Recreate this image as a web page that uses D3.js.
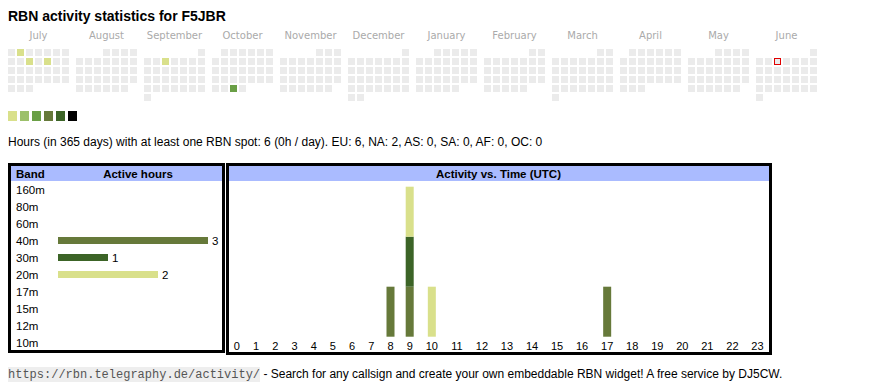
<!DOCTYPE html>
<html>
<head>
<meta charset="utf-8">
<script src="https://cdn.jsdelivr.net/npm/d3@7"></script>
<style>
  html, body { margin: 0; padding: 0; background: #fff; }
  svg { display: block; }
</style>
</head>
<body>
<svg id="chart" width="870" height="390"></svg>
<script>
// ---------- data ----------
const callsign = "F5JBR";
const months = ["July","August","September","October","November","December","January","February","March","April","May","June"];
const monthStartWeekday = [0,3,6,1,4,6,2,5,5,1,3,6];   // Monday = 0
const monthDays = [31,31,30,31,30,31,31,28,31,30,31,30];
const activeDays = [
  {month: "July", day: 2, level: 0},
  {month: "July", day: 10, level: 0},
  {month: "July", day: 12, level: 0},
  {month: "September", day: 4, level: 0},
  {month: "October", day: 30, level: 2}
];
const today = {month: "June", day: 4};
const levelColors = ["#d9e08b","#9cc06a","#6a9f46","#66793a","#3c6427","#000000"];

const bands = ["160m","80m","60m","40m","30m","20m","17m","15m","12m","10m"];
const bandHours = [0,0,0,3,1,2,0,0,0,0];
const bandColors = {"40m": "#66793a", "30m": "#3c6427", "20m": "#d9e08b"};

const hours = d3.range(24);
const activeHoursByBand = {
  "40m": [8, 9, 17],
  "30m": [9],
  "20m": [9, 10]
};
const stackOrder = ["40m","30m","20m"];

const totalHours = 6, daysSpan = 365, perDay = 0;
const continents = ["EU","NA","AS","SA","AF","OC"];
const continentHours = [6,2,0,0,0,0];

// ---------- drawing ----------
const svg = d3.select("#chart");
const SANS = '"Liberation Sans", Arial, sans-serif';

svg.append("text").attr("x", 8).attr("y", 21)
  .attr("font-family", SANS).attr("font-size", 14).attr("font-weight", "bold")
  .attr("fill", "#000").text("RBN activity statistics for " + callsign);

// calendar
const xMonth = d3.scaleBand().domain(months).range([8, 817]).paddingInner(7/68);
const xDay = d3.scaleBand().domain(d3.range(7)).range([0, 61]).paddingInner(2/9);
const yWeek = d3.scaleBand().domain(d3.range(6)).range([49, 101]).paddingInner(2/9);

svg.append("g").selectAll("text").data(months).join("text")
  .attr("x", d => xMonth(d) + xMonth.bandwidth()/2)
  .attr("y", 39)
  .attr("text-anchor", "middle")
  .attr("font-family", '"DejaVu Sans", Verdana, sans-serif')
  .attr("font-size", 10)
  .attr("fill", "#aaaaaa")
  .text(d => d);

const cells = [];
months.forEach((m, i) => {
  for (let d = 1; d <= monthDays[i]; d++) {
    const idx = d - 1 + monthStartWeekday[i];
    const act = activeDays.find(a => a.month === m && a.day === d);
    cells.push({month: m, day: d, col: idx % 7, row: Math.floor(idx / 7),
      level: act ? act.level : null,
      today: today.month === m && today.day === d});
  }
});
const cg = svg.append("g");
cg.selectAll("rect").data(cells).join("rect")
  .attr("x", d => xMonth(d.month) + xDay(d.col) + (d.today ? 0.5 : 0))
  .attr("y", d => yWeek(d.row) + (d.today ? 0.5 : 0))
  .attr("width", d => xDay.bandwidth() - (d.today ? 1 : 0))
  .attr("height", d => yWeek.bandwidth() - (d.today ? 1 : 0))
  .attr("fill", d => d.level === null ? "#ebebeb" : levelColors[d.level])
  .attr("stroke", d => d.today ? "#e00000" : "none")
  .attr("stroke-width", 1);

// legend
const xLeg = d3.scaleBand().domain(d3.range(levelColors.length)).range([8, 8 + 12*6 - 3]).paddingInner(3/12);
svg.append("g").selectAll("rect").data(levelColors).join("rect")
  .attr("x", (d, i) => xLeg(i)).attr("y", 111)
  .attr("width", xLeg.bandwidth()).attr("height", 10)
  .attr("fill", d => d);

// summary line
svg.append("text").attr("x", 8).attr("y", 146)
  .attr("font-family", SANS).attr("font-size", 12).attr("fill", "#000")
  .text(`Hours (in ${daysSpan} days) with at least one RBN spot: ${totalHours} (${perDay}h / day). ` +
        continents.map((c, i) => `${c}: ${continentHours[i]}`).join(", "));

// ---------- left table: band / active hours ----------
svg.append("rect").attr("x", 9.5).attr("y", 164.5).attr("width", 214).attr("height", 187)
  .attr("fill", "#fff").attr("stroke", "#000").attr("stroke-width", 3);
svg.append("rect").attr("x", 11).attr("y", 166).attr("width", 211).attr("height", 15).attr("fill", "#aabbff");
svg.append("text").attr("x", 16).attr("y", 177.5).attr("font-family", SANS).attr("font-size", 11.5)
  .attr("font-weight", "bold").text("Band");
svg.append("text").attr("x", 138).attr("y", 177.5).attr("text-anchor", "middle").attr("font-family", SANS)
  .attr("font-size", 11.5).attr("font-weight", "bold").text("Active hours");

const yBand = d3.scaleBand().domain(bands).range([181, 351]);
const xHours = d3.scaleLinear().domain([0, 3]).range([58, 208]);

const lt = svg.append("g");
lt.selectAll("text.band").data(bands).join("text").attr("class", "band")
  .attr("x", 16).attr("y", d => yBand(d) + yBand.bandwidth()/2 + 4)
  .attr("font-family", SANS).attr("font-size", 11.5).text(d => d);
const bandData = bands.map((b, i) => ({band: b, v: bandHours[i]})).filter(d => d.v > 0);
lt.selectAll("rect").data(bandData).join("rect")
  .attr("x", xHours(0)).attr("y", d => yBand(d.band) + yBand.bandwidth()/2 - 3.5)
  .attr("width", d => xHours(d.v) - xHours(0)).attr("height", 7)
  .attr("fill", d => bandColors[d.band]);
lt.selectAll("text.val").data(bandData).join("text").attr("class", "val")
  .attr("x", d => xHours(d.v) + 4).attr("y", d => yBand(d.band) + yBand.bandwidth()/2 + 4)
  .attr("font-family", SANS).attr("font-size", 11.5).text(d => d.v);

// ---------- right table: activity vs time ----------
svg.append("rect").attr("x", 227.5).attr("y", 164.5).attr("width", 543).attr("height", 189)
  .attr("fill", "#fff").attr("stroke", "#000").attr("stroke-width", 3);
svg.append("rect").attr("x", 229).attr("y", 166).attr("width", 540).attr("height", 15).attr("fill", "#aabbff");
svg.append("text").attr("x", 498.5).attr("y", 177.5).attr("text-anchor", "middle").attr("font-family", SANS)
  .attr("font-size", 11.5).attr("font-weight", "bold").text("Activity vs. Time (UTC)");

// hour columns: table-like widths depending on label length
const colW = hours.map(h => String(h).length * 5.85 + 13.35);
const colCenters = [];
let acc = 227.3;
colW.forEach(w => { colCenters.push(acc + w/2); acc += w; });
const xHour = d3.scaleOrdinal().domain(hours).range(colCenters);
const yCount = d3.scaleLinear().domain([0, 3]).range([336.7, 186.7]);

const hourRows = hours.map(h => {
  const o = {hour: h};
  stackOrder.forEach(b => { o[b] = activeHoursByBand[b].includes(h) ? 1 : 0; });
  return o;
});
const series = d3.stack().keys(stackOrder)(hourRows);
const rt = svg.append("g");
rt.selectAll("g").data(series).join("g")
  .attr("fill", d => bandColors[d.key])
  .selectAll("rect").data(d => d.filter(p => p[1] > p[0])).join("rect")
  .attr("x", d => xHour(d.data.hour) - 4).attr("width", 8)
  .attr("y", d => yCount(d[1])).attr("height", d => yCount(d[0]) - yCount(d[1]));

rt.selectAll("text").data(hours).join("text")
  .attr("x", d => xHour(d)).attr("y", 349.5).attr("text-anchor", "middle")
  .attr("font-family", SANS).attr("font-size", 11).text(d => d);

// ---------- footer ----------
const url = "https://rbn.telegraphy.de/activity/";
const footer = svg.append("g");
const urlBg = footer.append("rect").attr("x", 8).attr("y", 367).attr("height", 15).attr("fill", "#eeeeee");
const urlText = footer.append("text").attr("x", 8).attr("y", 378)
  .attr("font-family", '"Liberation Mono", "Courier New", monospace').attr("font-size", 12)
  .attr("fill", "#555").text(url);
const urlW = urlText.node().getComputedTextLength();
urlBg.attr("width", urlW);
footer.append("text").attr("x", 8 + urlW).attr("y", 378)
  .attr("font-family", SANS).attr("font-size", 12).attr("fill", "#000")
  .attr("xml:space", "preserve")
  .text(" - Search for any callsign and create your own embeddable RBN widget! A free service by DJ5CW.");
</script>
</body>
</html>
